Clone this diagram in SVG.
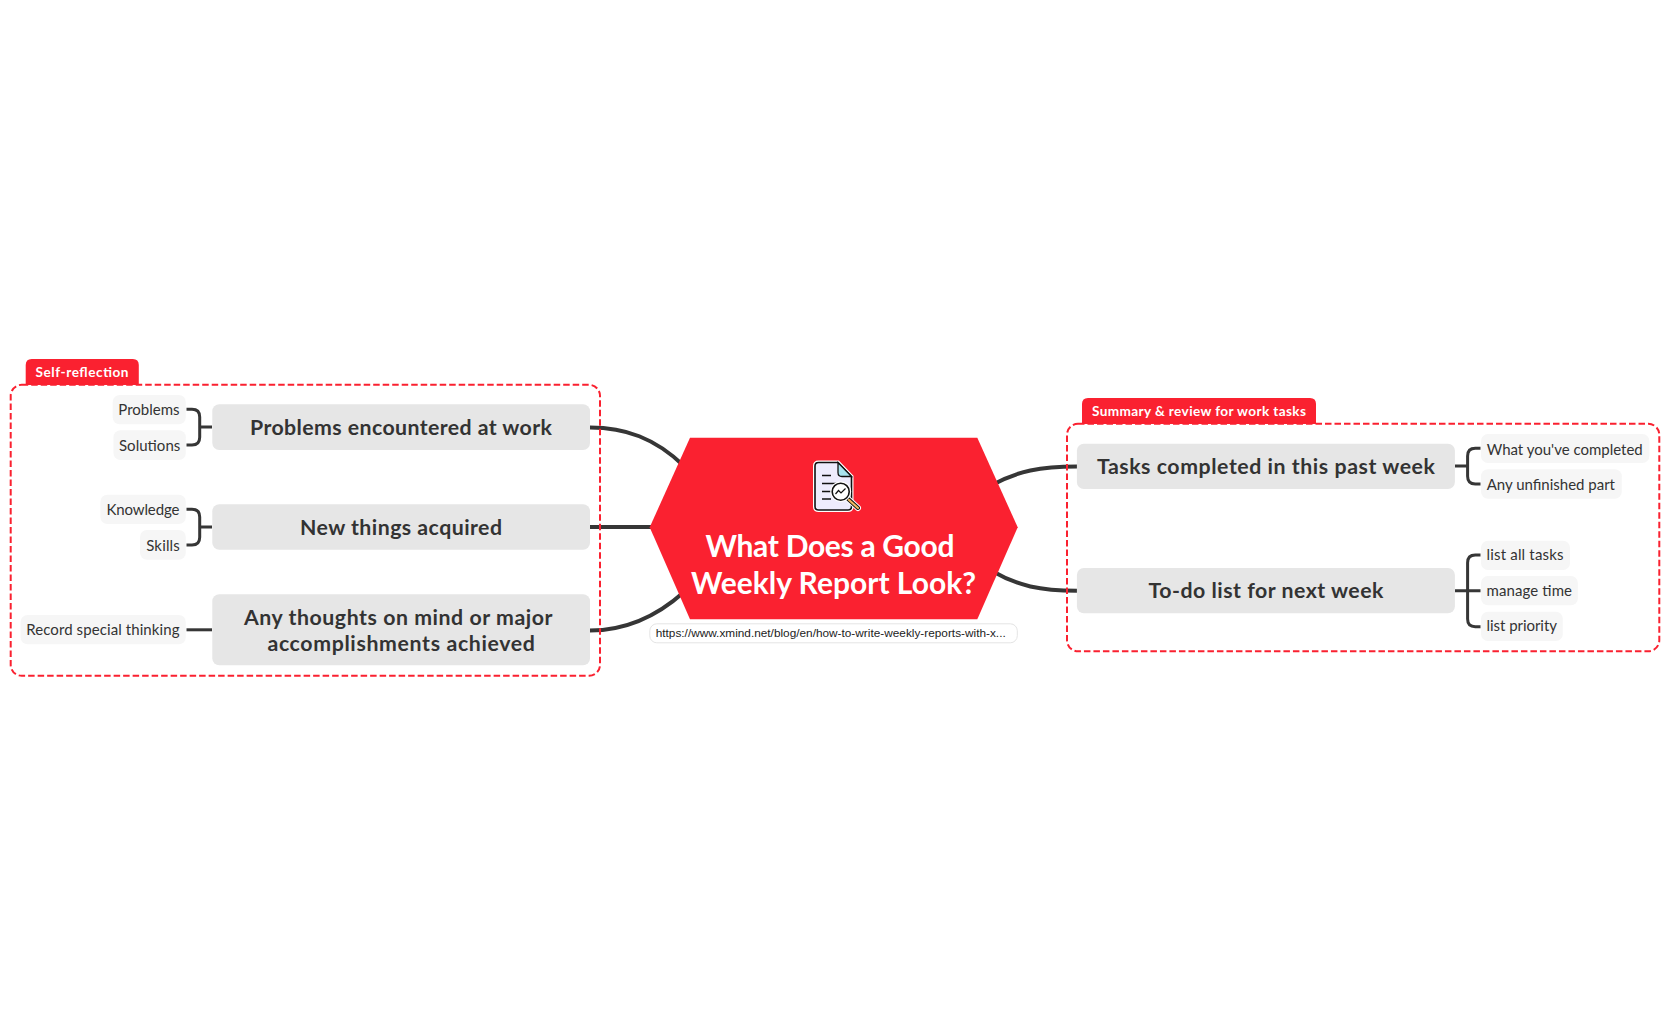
<svg xmlns="http://www.w3.org/2000/svg" width="1670" height="1033" viewBox="0 0 1670 1033">
<style>
text{font-family:"Lato","Noto Sans",sans-serif;fill:#333;text-anchor:middle}
.m{font-size:21.3px;font-weight:700}
.c{font-size:15px;text-anchor:start}
.t{font-size:13.6px;font-weight:700;fill:#fff}
.h{font-size:30px;font-weight:700;fill:#fff}
.u{font-family:"Liberation Sans",Arial,sans-serif;font-size:11.8px;text-anchor:start;fill:#222}
.mb{fill:#e6e6e6}
.cb{fill:#f6f6f6}
.tag{fill:#fa2130}
.grp{fill:none;stroke:#fa2130;stroke-width:2;stroke-dasharray:6.500 3}
.l{fill:none;stroke:#363636;stroke-linecap:butt}
.l1{stroke-width:4}
.l2{stroke-width:3}
</style>
<rect width="1670" height="1033" fill="#fff"/>
<g id="connectors">
<path class="l l1" d="M590 427.500C625 427.500 655 438 684 466"/>
<path class="l l1" d="M590 527H652"/>
<path class="l l1" d="M590 630.500C625 630.500 655 618 684 592"/>
<path class="l l1" d="M1077 466.500C1040 466.500 1018 471 992 485"/>
<path class="l l1" d="M1077 590.700C1040 590.700 1018 586 992 571"/>
<path class="l l2" d="M186.500 409.300H192Q199.700 409.300 199.700 417V437.300Q199.700 445 192 445H186.500M199.700 427H212"/>
<path class="l l2" d="M186.500 509.300H192Q199.700 509.300 199.700 517V537.300Q199.700 545 192 545H186.500M199.700 527H212"/>
<path class="l l2" d="M186.500 629.800H212"/>
<path class="l l2" d="M1455 466H1467.600M1480.500 448.300H1475.300Q1467.600 448.300 1467.600 456V476.300Q1467.600 484 1475.300 484H1480.500"/>
<path class="l l2" d="M1455 590.700H1480.500M1480.500 555H1475.300Q1467.600 555 1467.600 562.700V619Q1467.600 626.700 1475.300 626.700H1480.500"/>
</g>
<g id="group-left">
<path class="tag" d="M25.700 385V365Q25.700 359 31.700 359H132.800Q138.800 359 138.800 365V385Z"/>
<rect class="grp" x="10.700" y="384.800" width="589.300" height="291" rx="11"/>
<text class="t" x="82" y="377.300" textLength="93" lengthAdjust="spacing">Self-reflection</text>
</g>
<g id="group-right">
<path class="tag" d="M1082 424V404Q1082 398 1088 398H1310Q1316 398 1316 404V424Z"/>
<rect class="grp" x="1067" y="423.800" width="592.300" height="227.500" rx="11"/>
<text class="t" x="1199" y="416.300" textLength="214" lengthAdjust="spacing">Summary &amp; review for work tasks</text>
</g>
<g id="center">
<path d="M690 437.700H977.300L1017.700 527.300L977.300 619.300H690L649.700 527.300Z" fill="#fa2130"/>
<text class="h" x="830" y="557" textLength="249" lengthAdjust="spacing">What Does a Good</text>
<text class="h" x="833.500" y="594.300" textLength="285" lengthAdjust="spacing">Weekly Report Look?</text>
<g id="icon">
<path d="M818.500 462.500H838L851.500 476.500V506.500Q851.500 510 848 510H818.500Q815 510 815 506.500V466Q815 462.500 818.500 462.500Z" fill="#eeecfd" stroke="#fff" stroke-width="4"/>
<path d="M818.500 462.500H838L851.500 476.500V506.500Q851.500 510 848 510H818.500Q815 510 815 506.500V466Q815 462.500 818.500 462.500Z" fill="#eeecfd" stroke="#111" stroke-width="1.600"/>
<path d="M838 462.500V472.500Q838 476.500 842 476.500H851.500Z" fill="#a9e4ee" stroke="#111" stroke-width="1.300"/>
<path d="M822 475.500H831M822 483.500H838M822 491.500H831M822 499H831" stroke="#111" stroke-width="1.300" fill="none"/>
<path d="M847 498L858 508" stroke="#fff" stroke-width="6" stroke-linecap="round"/>
<path d="M847 498L858 508" stroke="#111" stroke-width="4" stroke-linecap="round"/>
<path d="M849 500L858 508" stroke="#f3b95f" stroke-width="2.200" stroke-linecap="round"/>
<circle cx="840.700" cy="491.700" r="9" fill="#fff" stroke="#fff" stroke-width="3"/>
<circle cx="840.700" cy="491.700" r="8.500" fill="#fff" stroke="#111" stroke-width="1.600"/>
<path d="M835.500 494L838.500 490.500L841 493L845.500 488.500" fill="none" stroke="#111" stroke-width="1.200"/>
</g>
</g>
<g id="url">
<rect x="649.800" y="623.800" width="367.500" height="19" rx="7" fill="#fff" stroke="#e4e4e4"/>
<text class="u" x="655.700" y="636.700" textLength="350" lengthAdjust="spacing">https://www.xmind.net/blog/en/how-to-write-weekly-reports-with-x...</text>
</g>
<g id="n1"><rect class="mb" x="212.300" y="404.300" width="377.700" height="45.700" rx="7"/><text class="m" x="401" y="435" textLength="302" lengthAdjust="spacing">Problems encountered at work</text></g>
<g id="n2"><rect class="mb" x="212.300" y="504.300" width="377.700" height="45.400" rx="7"/><text class="m" x="401" y="535" textLength="202" lengthAdjust="spacing">New things acquired</text></g>
<g id="n3"><rect class="mb" x="212.300" y="594.300" width="377.700" height="71" rx="7"/><text class="m" x="398.200" y="625" textLength="308.500" lengthAdjust="spacing">Any thoughts on mind or major</text><text class="m" x="401.200" y="650.700" textLength="267.500" lengthAdjust="spacing">accomplishments achieved</text></g>
<g id="n4"><rect class="mb" x="1076.900" y="443.700" width="378" height="45.300" rx="7"/><text class="m" x="1265.900" y="473.700" textLength="338" lengthAdjust="spacing">Tasks completed in this past week</text></g>
<g id="n5"><rect class="mb" x="1076.900" y="568" width="378" height="45.300" rx="7"/><text class="m" x="1266" y="598.400" textLength="235" lengthAdjust="spacing">To-do list for next week</text></g>
<g id="c1"><rect class="cb" x="112.700" y="395" width="73.100" height="29.300" rx="7"/><text class="c" x="118.300" y="414.500" textLength="61.300" lengthAdjust="spacing">Problems</text></g>
<g id="c2"><rect class="cb" x="113.500" y="430.300" width="72.300" height="29.700" rx="7"/><text class="c" x="119" y="450.500" textLength="61.300" lengthAdjust="spacing">Solutions</text></g>
<g id="c3"><rect class="cb" x="100.400" y="494.700" width="85.400" height="29.300" rx="7"/><text class="c" x="106.400" y="514.800" textLength="73" lengthAdjust="spacing">Knowledge</text></g>
<g id="c4"><rect class="cb" x="140" y="530" width="45.800" height="29.700" rx="7"/><text class="c" x="146.200" y="550.500" textLength="33.600" lengthAdjust="spacing">Skills</text></g>
<g id="c5"><rect class="cb" x="20.600" y="615" width="165.200" height="29.300" rx="7"/><text class="c" x="26.200" y="635.300" textLength="153.300" lengthAdjust="spacing">Record special thinking</text></g>
<g id="c6"><rect class="cb" x="1481" y="434" width="168.400" height="29" rx="7"/><text class="c" x="1486.700" y="454.500" textLength="156" lengthAdjust="spacing">What you've completed</text></g>
<g id="c7"><rect class="cb" x="1481" y="469.300" width="140.800" height="29.400" rx="7"/><text class="c" x="1486.700" y="489.500" textLength="128.300" lengthAdjust="spacing">Any unfinished part</text></g>
<g id="c8"><rect class="cb" x="1481" y="540.700" width="89" height="29.300" rx="7"/><text class="c" x="1486.500" y="560.300" textLength="77" lengthAdjust="spacing">list all tasks</text></g>
<g id="c9"><rect class="cb" x="1481" y="576" width="96.900" height="29.300" rx="7"/><text class="c" x="1486.500" y="596.300" textLength="85.500" lengthAdjust="spacing">manage time</text></g>
<g id="c10"><rect class="cb" x="1481" y="611.700" width="81.800" height="29.300" rx="7"/><text class="c" x="1486.500" y="631.300" textLength="70.500" lengthAdjust="spacing">list priority</text></g>
</svg>
